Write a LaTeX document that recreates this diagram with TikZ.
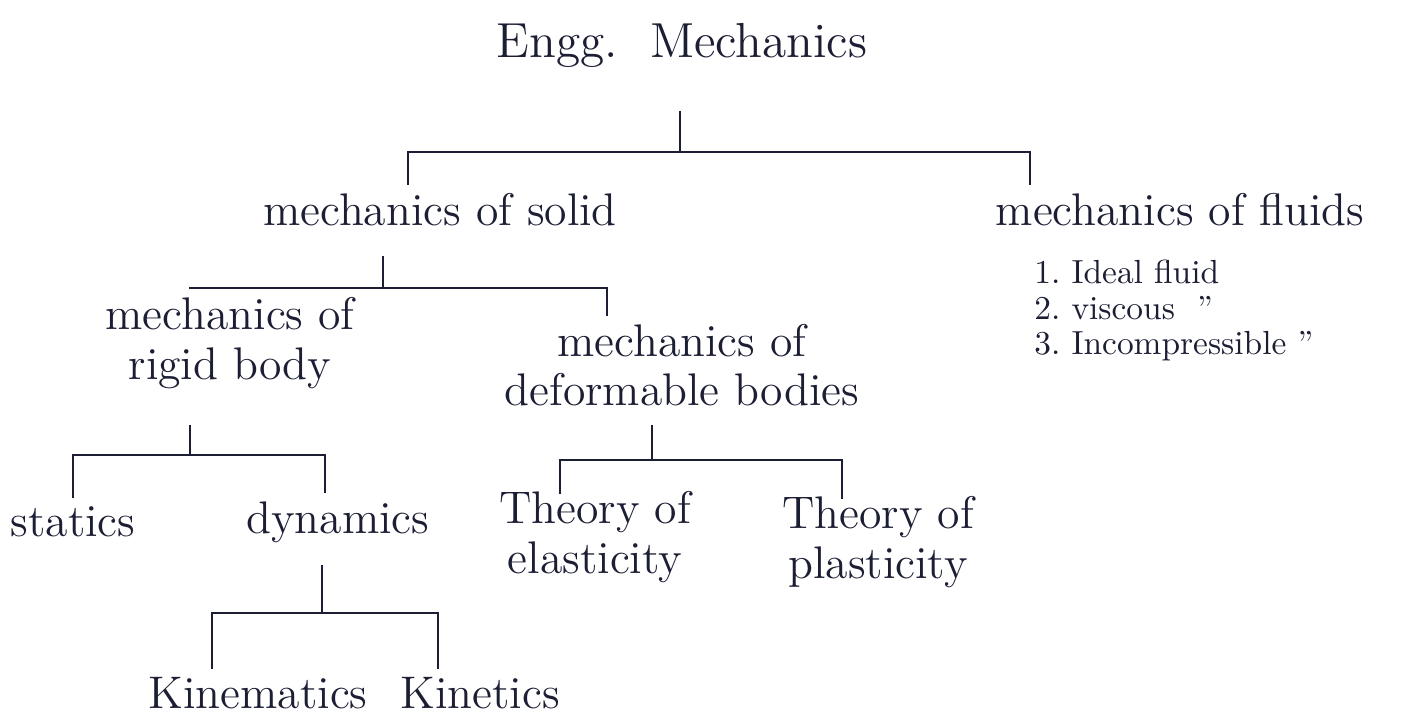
\documentclass[tikz,border=0pt]{standalone}
\usepackage{tikz}
\definecolor{ink}{RGB}{28,30,52}

\begin{document}
\begin{tikzpicture}[x=0.01cm, y=-0.01cm, line width=0.8pt, color=ink,
        lbl/.style={font=\fontsize{13}{14}\selectfont, align=center, inner sep=2pt},
        longdrop/.style={shorten >=-3pt}]
        \useasboundingbox (0,0) rectangle (1406,713);
        % topics
        \node[lbl, font=\fontsize{14}{16}\selectfont] (engg) at (682,45) {Engg.\ \ Mechanics};
        \node[lbl] (solid) at (440,210) {mechanics of solid};
        \node[lbl] (fluids) at (1180,210) {mechanics of fluids};
        \node[lbl, font=\fontsize{9.5}{10}\selectfont, align=left, anchor=north west] (fluidlist) at (1026,252)
            {1.\ Ideal fluid\\2.\ viscous\ \ ''\\3.\ Incompressible\ ''};
        \node[lbl] (rigid) at (230,343) {mechanics of\\rigid body};
        \node[lbl] (deform) at (682,365) {mechanics of\\deformable bodies};
        \node[lbl] (statics) at (73,522) {statics};
        \node[lbl] (dynamics) at (338,522) {dynamics};
        \node[lbl] (elastic) at (595,537) {Theory of\\elasticity};
        \node[lbl] (plastic) at (878,542) {Theory of\\plasticity};
        \node[lbl] (kinem) at (258,693) {Kinematics};
        \node[lbl] (kinet) at (480,693) {Kinetics};
        % brackets
        \coordinate (j0) at (680,152);
        \coordinate (j1) at (383,288);
        \coordinate (j2) at (190,455);
        \coordinate (j3) at (652,460);
        \coordinate (j4) at (322,613);
        \foreach \p/\j/\s in {engg/j0/10pt, solid/j1/6pt, rigid/j2/8pt, deform/j3/3pt, dynamics/j4/4pt} {
            \draw[shorten <=\s] (\p.south -| \j) -- (\j);
        }
        \draw (j0) -| ([xshift=-0.32cm]solid.north);
        \draw (j0) -| ([xshift=-1.5cm]fluids.north);
        \draw (j1) -| ([xshift=-0.4cm]rigid.north);
        \draw (j1) -| ([xshift=-0.75cm]deform.north);
        \draw (j2) -| (statics.north);
        \draw (j2) -| ([xshift=-0.13cm]dynamics.north);
        \draw[longdrop] (j3) -| ([xshift=-0.35cm]elastic.north);
        \draw[longdrop] (j3) -| ([xshift=-0.36cm]plastic.north);
        \draw (j4) -| ([xshift=-0.46cm]kinem.north);
        \draw (j4) -| ([xshift=-0.42cm]kinet.north);
\end{tikzpicture}
\end{document}
